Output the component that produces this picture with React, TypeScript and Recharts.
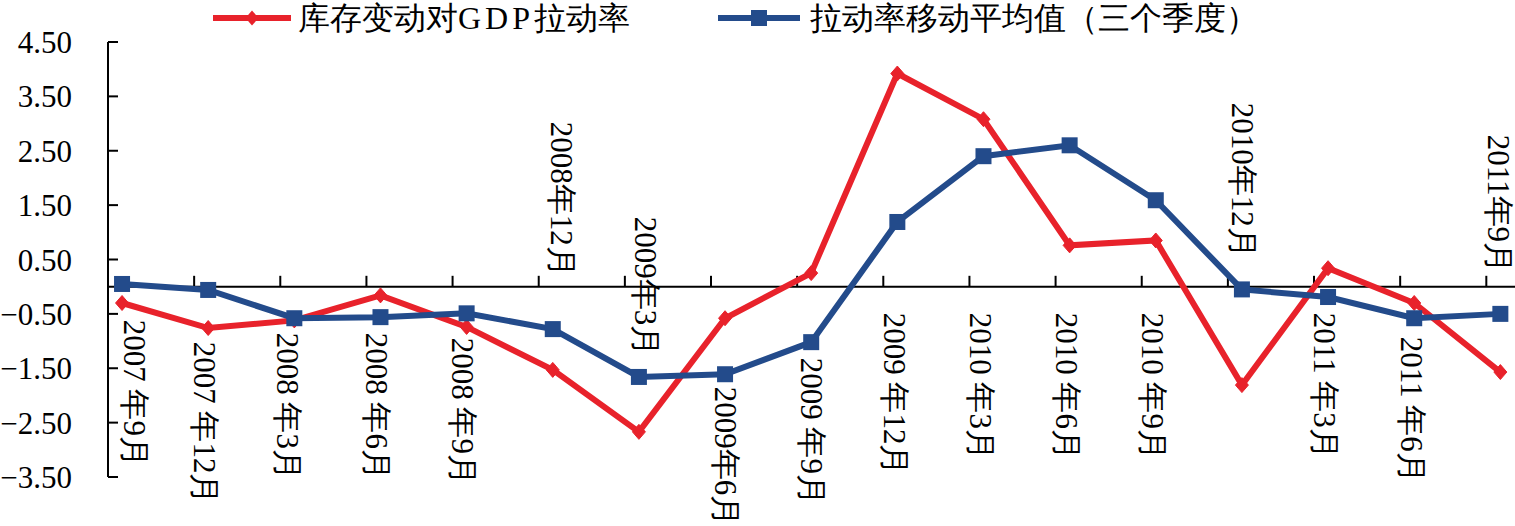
import React from 'react';
import { LineChart, Line, XAxis, YAxis, ReferenceLine, ReferenceDot, Legend } from 'recharts';

// ---- data ----
const categories = [
  '2007 年9月', '2007 年12月', '2008 年3月', '2008 年6月', '2008 年9月', '2008年12月',
  '2009年3月', '2009年6月', '2009 年9月', '2009 年12月', '2010 年3月', '2010 年6月',
  '2010 年9月', '2010年12月', '2011 年3月', '2011 年6月', '2011年9月',
];
const inventoryPull = [
  -0.30, -0.76, -0.62, -0.16, -0.74, -1.53, -2.67, -0.58, 0.25, 3.92, 3.08, 0.76,
  0.85, -1.81, 0.34, -0.30, -1.57,
];
const movingAverage = [
  0.05, -0.06, -0.58, -0.56, -0.49, -0.78, -1.66, -1.61, -1.02, 1.19, 2.40, 2.60,
  1.59, -0.05, -0.19, -0.58, -0.50,
];
const yTicks = [-3.5, -2.5, -1.5, -0.5, 0.5, 1.5, 2.5, 3.5, 4.5];
const seriesNames = ['库存变动对GDP拉动率', '拉动率移动平均值（三个季度）'];

// ---- layout (label placement along the zero axis, in px) ----
const labelStart = [33, 55, 46, 46, 51, -165, -70, 100, 71, 26, 26, 26, 26, -184, 26, 50, -152];
const labelDx = [12, -4, -7, -4, -4, 9, 7, 0, 0, -3, -3, -3, -3, 1, -4, -3, -2];
const TICK_SHIFT = 0.163;
const TICK_LEN = 0.2;

const RED = '#E8222B';
const BLUE = '#234B8B';
const FONT = '"Liberation Serif", serif';

const data = categories.map((c, i) => ({
  idx: i,
  name: c,
  pull: inventoryPull[i],
  avg: movingAverage[i],
}));

const Diamond = (p: any) => {
  const { cx, cy, index } = p;
  if (cx == null || cy == null) return <g key={'d' + index} />;
  return (
    <path
      key={'d' + index}
      d={`M${cx},${cy - 7.5} L${cx + 6.5},${cy} L${cx},${cy + 7.5} L${cx - 6.5},${cy} Z`}
      fill={RED}
      stroke={RED}
      strokeWidth={1}
    />
  );
};

const Square = (p: any) => {
  const { cx, cy, index } = p;
  if (cx == null || cy == null) return <g key={'s' + index} />;
  return <rect key={'s' + index} x={cx - 8} y={cy - 8} width={16} height={16} fill={BLUE} />;
};

const LegendContent = () => (
  <div style={{ position: 'relative', width: 1515, height: 36, fontFamily: FONT, fontSize: 32, color: '#000' }}>
    <svg style={{ position: 'absolute', left: 213, top: 8 }} width={80} height={20}>
      <line x1={0} y1={10} x2={78} y2={10} stroke={RED} strokeWidth={6} />
      <path d="M39,2.5 L45.5,10 L39,17.5 L32.5,10 Z" fill={RED} />
    </svg>
    <div style={{ position: 'absolute', left: 298, top: 0, lineHeight: '36px', whiteSpace: 'nowrap' }}>
      库存变动对<span style={{ letterSpacing: 4 }}>GDP</span>拉动率
    </div>
    <svg style={{ position: 'absolute', left: 718, top: 8 }} width={84} height={20}>
      <line x1={0} y1={10} x2={82} y2={10} stroke={BLUE} strokeWidth={6} />
      <rect x={33} y={2} width={16} height={16} fill={BLUE} />
    </svg>
    <div style={{ position: 'absolute', left: 810, top: 0, lineHeight: '36px', whiteSpace: 'nowrap' }}>
      {seriesNames[1]}
    </div>
  </div>
);

export default function App() {
  return (
    <div style={{ position: 'absolute', left: 0, top: 0, background: '#fff' }}>
      <LineChart
        width={1515}
        height={526}
        data={data}
        margin={{ top: 6, right: 0, bottom: 49, left: 0 }}
      >
        <Legend
          verticalAlign="top"
          align="left"
          wrapperStyle={{ top: 0, left: 0 }}
          content={() => <LegendContent />}
        />
        <XAxis
          dataKey="idx"
          type="number"
          domain={[-TICK_SHIFT, 16.17]}
          allowDataOverflow
          hide
        />
        <YAxis
          type="number"
          domain={[-3.5, 4.5]}
          ticks={yTicks}
          interval={0}
          width={108}
          axisLine={{ stroke: '#000', strokeWidth: 2 }}
          tickLine={{ stroke: '#000', strokeWidth: 2 }}
          tickSize={-10}
          tickMargin={46}
          tick={{ fill: '#000', fontSize: 31, fontFamily: FONT, style: { fontFamily: FONT } }}
          tickFormatter={(v: number) => v.toFixed(2).replace('-', '−')}
        />
        <ReferenceLine y={0} stroke="#000" strokeWidth={2} />
        {categories.slice(1).map((_, k) => (
          <ReferenceLine
            key={'t' + k}
            segment={[
              { x: k + 1 - TICK_SHIFT, y: 0 },
              { x: k + 1 - TICK_SHIFT, y: TICK_LEN },
            ]}
            stroke="#000"
            strokeWidth={2}
          />
        ))}
        <Line
          type="linear"
          dataKey="pull"
          name={seriesNames[0]}
          stroke={RED}
          strokeWidth={6}
          dot={Diamond}
          activeDot={false}
          isAnimationActive={false}
        />
        <Line
          type="linear"
          dataKey="avg"
          name={seriesNames[1]}
          stroke={BLUE}
          strokeWidth={6}
          dot={Square}
          activeDot={false}
          isAnimationActive={false}
        />
        {categories.map((c, i) => (
          <ReferenceDot
            key={'l' + i}
            x={i}
            y={0}
            r={0}
            ifOverflow="visible"
            shape={(p: any) => (
              <text
                transform={`translate(${p.cx + labelDx[i]},${p.cy + labelStart[i]}) rotate(90)`}
                x={0}
                y={0}
                fontSize={31}
                fill="#000"
                textAnchor="start"
                dominantBaseline="central"
                style={{ fontFamily: FONT }}
              >
                {c}
              </text>
            )}
          />
        ))}
      </LineChart>
    </div>
  );
}
